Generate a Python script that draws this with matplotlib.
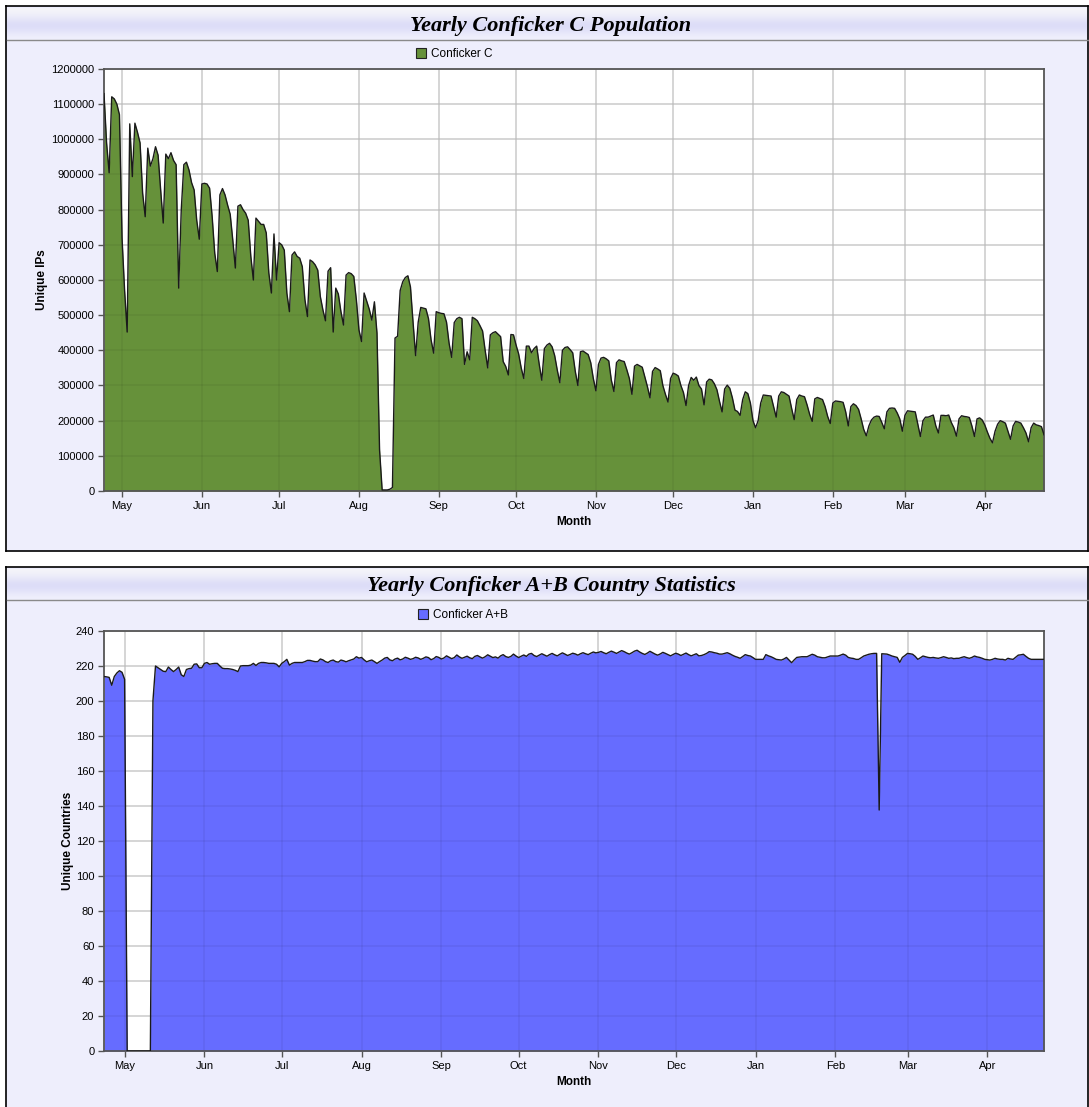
import matplotlib
matplotlib.use("Agg")
import matplotlib.pyplot as plt
import matplotlib.dates as mdates
import matplotlib.ticker as ticker
from matplotlib.patches import Patch
import numpy as np
import pandas as pd

# Conficker C unique IPs (thousands), daily from 2009-04-24
conficker_c_k = [
    1130, 990, 905,
    1121, 1115, 1100, 1070, 720, 570, 452,
    1044, 894, 1046, 1020, 990, 847, 780,
    975, 924, 945, 979, 955, 856, 762,
    958, 945, 962, 940, 928, 577, 800,
    928, 935, 913, 877, 856, 770, 716,
    873, 875, 873, 861, 780, 676, 624,
    842, 860, 842, 813, 787, 714, 634,
    810, 814, 800, 790, 770, 668, 600,
    776, 767, 758, 758, 734, 620, 563,
    731, 600, 706, 700, 685, 563, 510,
    671, 680, 667, 662, 638, 545, 496,
    657, 652, 643, 628, 553, 515, 484,
    625, 635, 452, 577, 560, 510, 472,
    614, 621, 618, 610, 543, 458, 425,
    563, 540, 517, 486, 538, 449, 117,
    3, 3, 3, 5, 10, 435, 440,
    570, 595, 607, 612, 580, 480, 385,
    480, 522, 520, 518, 490, 430, 392,
    510, 507, 505, 504, 480, 420, 380,
    479, 490, 494, 490, 360, 396, 373,
    494, 490, 484, 470, 455, 400, 350,
    444, 450, 453, 446, 439, 368, 354,
    330, 445, 444, 415, 390, 350, 320,
    412, 412, 393, 405, 412, 360, 315,
    405, 415, 420, 410, 385, 344, 308,
    400, 408, 410, 402, 393, 340, 300,
    396, 398, 393, 388, 365, 320, 285,
    360, 378, 380, 376, 370, 315, 283,
    365, 373, 370, 368, 345, 320, 275,
    355, 360, 356, 352, 325, 297, 265,
    340, 351, 347, 342, 300, 275, 253,
    320, 335, 332, 327, 300, 280, 243,
    300, 323, 315, 324, 300, 290, 245,
    310, 318, 316, 305, 288, 255, 225,
    290, 301, 292, 265, 230, 226, 215,
    260, 282, 277, 250, 200, 180, 200,
    250, 273, 272, 271, 270, 240, 210,
    270, 282, 280, 275, 270, 235, 203,
    260, 273, 270, 268, 245, 218, 198,
    262, 266, 263, 260, 240, 212, 192,
    250, 256, 255, 254, 252, 225, 185,
    240, 248, 243, 232, 205, 175, 157,
    185, 202, 210, 213, 212, 195, 177,
    225, 235, 236, 235, 222, 205, 170,
    215, 228, 227, 226, 225, 190, 155,
    200, 210, 210, 213, 216, 185, 165,
    215, 215, 214, 216, 195, 180, 156,
    205, 214, 212, 211, 209, 185, 155,
    205, 208, 202, 188, 168, 150, 137,
    170, 190, 200, 197, 193, 170, 147,
    185, 198, 196, 193, 180, 165, 140,
    180, 193, 188, 186, 183, 160,
]

# Conficker A+B unique countries, daily from 2009-04-23
conficker_ab = [
    214, 213.8, 213.5, 209, 214, 216, 217.3, 216.4, 212.4,
    0, 0, 0, 0, 0, 0, 0, 0, 0, 0,
    200, 220, 219, 218, 217, 216.8, 219.4, 218, 216.8, 218,
    219.4, 215, 214, 218, 218.5, 218.7, 221, 221.2, 219, 219,
    221.5, 222, 221, 221.3, 221.5, 221.5, 220, 218.7, 218.5, 218.5,
    218.3, 218, 217.5, 216.8, 220, 220.2, 220.2, 220.2, 220.5, 221.5,
    220.3, 221.5, 222, 222, 221.8, 221.5, 221.5, 221.5, 221, 219.5,
    221.5, 222.5, 223.8, 220.5, 221.5, 222, 222, 222, 222, 222.5,
    223.2, 223.2, 222.8, 222.5, 222.5, 224, 223.5, 222.5, 222, 223,
    223.4, 222.5, 222.2, 223.4, 223, 222.4, 223, 223.5, 224, 225.3,
    224.5, 224.9, 223.5, 222.4, 223, 223.4, 222.5, 221.5, 222.5, 223.4,
    224.5, 224.9, 223.5, 223,
    224, 224.5, 223.5, 224, 225, 224.5, 223.8, 224.2, 225, 224.6,
    223.8, 224.4, 225.2, 224.8, 223.6, 224.2, 225.4, 224.9, 224, 224.6,
    225.8, 225, 224.2, 224.8, 226.3, 225.2, 224.4, 225, 225.6, 224.7,
    224.2, 225.5, 226, 225.2, 224.5, 225.3, 226.4, 225.6, 224.8, 225.2,
    224.5, 225.8, 226.5, 225.4, 224.9, 225.5, 226.8, 225.7, 224.8, 225.6,
    226.3, 225.5, 226.8, 227.2, 226, 225.4, 226.2, 227, 226.3, 225.6,
    226.5, 227.2, 226.4, 225.8, 226.7, 227.5, 226.8, 226, 226.6, 227.3,
    226.9, 226.2, 227, 227.6, 227, 226.5, 227.3, 228, 227.5, 227.8,
    228.3, 227.6, 227, 227.8, 228.5, 227.9, 227.2, 228, 228.8, 228.2,
    227.4, 226.8, 227.6, 228.5, 229, 228, 227.2, 226.6, 227.4, 228.4,
    227.6, 226.8, 226.2, 226.9, 227.8, 227.2, 226.5, 225.8, 226.6, 227.3,
    226.8, 226, 226.7, 227.4, 226.5, 225.8, 226.4, 227, 225.8,
    226, 226.5, 227.2, 228.2, 228, 227.6, 227.3, 226.8, 226.8, 227.2,
    227.6, 227, 226.2, 225.5, 225, 224.4, 225.4, 226.5, 226, 225.7,
    224.8, 223.8, 223.8, 223.8, 223.8, 226.5, 225.8, 225.3, 224.6, 223.8,
    223.6, 223.4, 224, 224.9, 223.4, 221.9, 223.5, 224.9, 225.1, 225.3,
    225.3, 225.3, 226, 226.7, 226.2, 225.3, 225, 224.7, 224.7, 225.2,
    225.7, 225.7, 225.7, 225.7, 226.2, 226.8, 226.2, 224.9, 224.5, 224.3,
    223.8, 223.8, 224.7, 225.7, 226.2, 226.7, 227, 227.2, 227.2, 137.7,
    227, 226.9, 226.8, 226.3, 225.7, 225.3, 224.9, 222.1, 224.9, 226,
    227.2, 227, 226.7, 225.5, 223.8, 224.7, 225.7, 225.3, 224.9, 224.7,
    224.9, 224.6, 224.4, 224.8, 225.3, 224.9, 224.4, 224.6, 224.2, 224.4,
    224.4, 224.9, 225.3, 224.8, 224.4, 224.9, 225.7, 225.2, 224.9, 224.4,
    223.8, 223.6, 223.4, 223.8, 224.4, 224, 223.8, 223.8, 223.4, 224.4,
    224, 223.8, 225, 226.2, 226.4, 226.7, 225.5, 224.4, 223.8, 223.8,
    223.8, 223.8, 223.8, 223.8,
]

dates_c = pd.date_range("2009-04-24", periods=len(conficker_c_k), freq="D")
values_c = np.array(conficker_c_k) * 1000
dates_ab = pd.date_range("2009-04-23", periods=len(conficker_ab), freq="D")
values_ab = np.array(conficker_ab)

W, H = 1089, 1107
fig = plt.figure(figsize=(W / 100, H / 100), dpi=100)
fig.patch.set_facecolor("white")


def fx(px):
    return px / W


def fy(py):
    return 1 - py / H


panel_bg = "#EEEEFC"
green = "#66913A"
blue = "#666CFF"


def make_panel(top, bottom, bar_bottom, title):
    # outer box, behind everything
    box = fig.add_axes([fx(6), fy(bottom), fx(1082), (bottom - top) / H], zorder=-5)
    box.set_xticks([])
    box.set_yticks([])
    box.set_facecolor(panel_bg)
    for s in box.spines.values():
        s.set_color("black")
        s.set_linewidth(1.2)
    # title bar with vertical gradient
    bar = fig.add_axes([fx(7), fy(bar_bottom), fx(1080), (bar_bottom - top - 2) / H], zorder=-4)
    grad = np.array([[0.96, 0.96, 0.98], [0.93, 0.93, 0.98], [0.88, 0.88, 0.97],
                     [0.86, 0.86, 0.97], [0.90, 0.90, 0.98], [0.94, 0.94, 0.99]])
    bar.imshow(grad[:, None, :], aspect="auto", extent=[0, 1, 0, 1],
               interpolation="bicubic")
    bar.set_axis_off()
    fig.add_artist(plt.Line2D([fx(7), fx(1088)], [fy(bar_bottom), fy(bar_bottom)],
                              transform=fig.transFigure, color="#8a8a8a", lw=1))
    fig.text(fx(551), fy((top + bar_bottom) / 2 + 3), title, ha="center", va="center",
             family="Liberation Serif", weight="bold", style="italic", fontsize=16)


def style_axes(ax):
    ax.set_facecolor("white")
    for s in ax.spines.values():
        s.set_color("#555555")
        s.set_linewidth(1.3)
    ax.set_axisbelow(True)
    ax.grid(True, color="#D8D8D8", lw=1.1)
    ax.tick_params(direction="out", length=4, width=1, color="#555555",
                   labelsize=8, pad=3)
    ax.xaxis.set_major_locator(mdates.MonthLocator())
    ax.xaxis.set_major_formatter(mdates.DateFormatter("%b"))
    for lab in ax.get_xticklabels() + ax.get_yticklabels():
        lab.set_family("Liberation Sans")


def overlay_grid(ax):
    # faint grid lines showing through the filled area
    xt = [t for t in ax.get_xticks() if ax.get_xlim()[0] < t < ax.get_xlim()[1]]
    yt = [t for t in ax.get_yticks() if ax.get_ylim()[0] < t < ax.get_ylim()[1]]
    ax.vlines(xt, *ax.get_ylim(), color="black", alpha=0.06, lw=1.1, zorder=2)
    ax.hlines(yt, *ax.get_xlim(), color="black", alpha=0.06, lw=1.1, zorder=2)


make_panel(6, 551, 40, "Yearly Conficker C Population")
make_panel(567, 1112, 600, "Yearly Conficker A+B Country Statistics")

# ---- top chart
ax1 = fig.add_axes([fx(104), fy(491), fx(940), 422 / H])
ax1.fill_between(dates_c, values_c, color=green, lw=0, zorder=1)
ax1.plot(dates_c, values_c, color="#1a1a1a", lw=1.0, zorder=3)
ax1.set_xlim(dates_c[0], dates_c[-1])
ax1.set_ylim(0, 1200000)
ax1.yaxis.set_major_locator(ticker.MultipleLocator(100000))
ax1.yaxis.set_major_formatter(ticker.FormatStrFormatter("%d"))
style_axes(ax1)
overlay_grid(ax1)
ax1.set_ylabel("Unique IPs", fontsize=8.5, weight="bold", family="Liberation Sans", labelpad=2)
ax1.set_xlabel("Month", fontsize=8.5, weight="bold", family="Liberation Sans", labelpad=4)
ax1.legend(handles=[Patch(facecolor=green, edgecolor="#222222", lw=0.8, label="Conficker C")],
           loc="center left", bbox_to_anchor=(fx(416), fy(54)), bbox_transform=fig.transFigure,
           frameon=False, borderpad=0, borderaxespad=0, handlelength=0.85, handleheight=0.85,
           handletextpad=0.4, prop={"family": "Liberation Sans", "size": 8.5})

# ---- bottom chart
ax2 = fig.add_axes([fx(104), fy(1051), fx(940), 420 / H])
ax2.fill_between(dates_ab, values_ab, color=blue, lw=0, zorder=1)
ax2.plot(dates_ab, values_ab, color="#1a1a1a", lw=1.0, zorder=3)
ax2.set_xlim(dates_ab[0], dates_ab[-1])
ax2.set_ylim(0, 240)
ax2.yaxis.set_major_locator(ticker.MultipleLocator(20))
style_axes(ax2)
overlay_grid(ax2)
ax2.set_ylabel("Unique Countries", fontsize=8.5, weight="bold", family="Liberation Sans", labelpad=1)
ax2.set_xlabel("Month", fontsize=8.5, weight="bold", family="Liberation Sans", labelpad=4)
ax2.legend(handles=[Patch(facecolor=blue, edgecolor="#222222", lw=0.8, label="Conficker A+B")],
           loc="center left", bbox_to_anchor=(fx(418), fy(615)), bbox_transform=fig.transFigure,
           frameon=False, borderpad=0, borderaxespad=0, handlelength=0.85, handleheight=0.85,
           handletextpad=0.4, prop={"family": "Liberation Sans", "size": 8.5})

fig.savefig("out.png", dpi=100, facecolor=fig.get_facecolor())
